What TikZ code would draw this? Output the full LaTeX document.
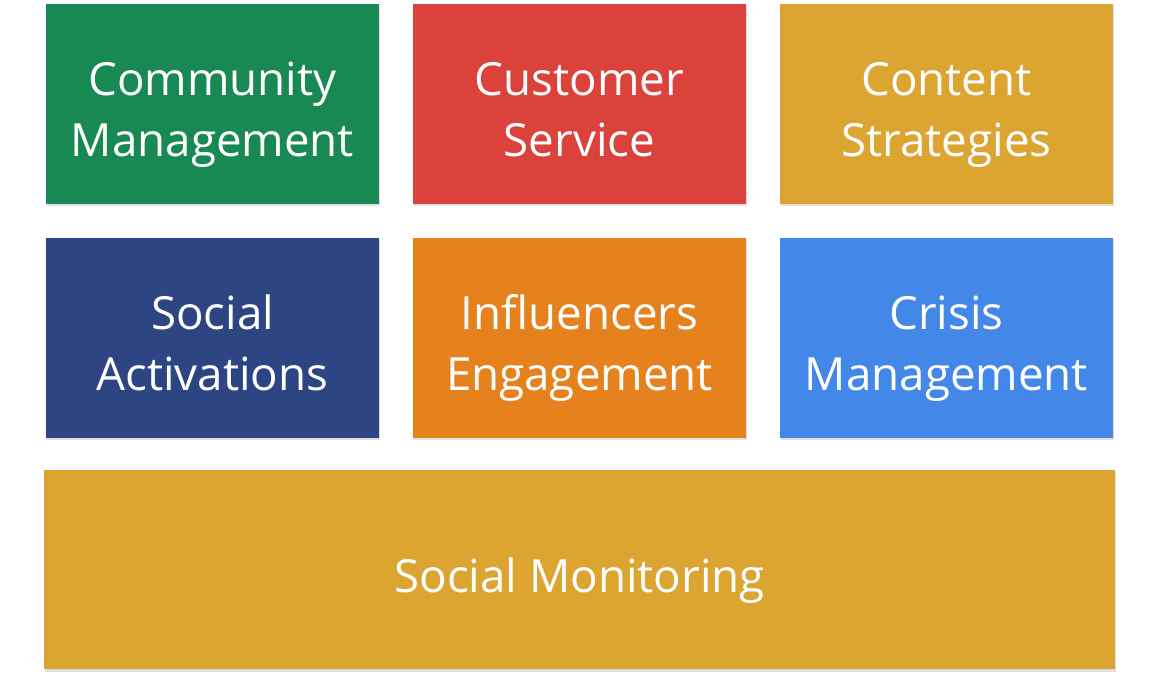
\documentclass[tikz,border=0pt]{standalone}
\usepackage{fontspec}
\setmainfont{Open Sans}
\usetikzlibrary{shadows}
\definecolor{cgreen}{RGB}{25,137,83}
\definecolor{cred}{RGB}{219,66,59}
\definecolor{cgold}{RGB}{220,164,49}
\definecolor{cnavy}{RGB}{46,69,132}
\definecolor{corange}{RGB}{230,130,30}
\definecolor{cblue}{RGB}{67,136,232}
\tikzset{
  tile/.style={rectangle, draw=none, inner sep=0pt, minimum width=333pt, minimum height=200pt,
    drop shadow={shadow xshift=1pt, shadow yshift=-2.5pt, opacity=0.25}},
  lbl/.style={text=white, inner sep=0pt, anchor=base, font=\fontsize{45.7}{61}\selectfont}
}
\begin{document}
\begin{tikzpicture}[x=1pt,y=-1pt]
\useasboundingbox (0,0) rectangle (1159,681);
% row 1
\node[tile, fill=cgreen] (cm) at (212.5,103.5) {};
\node[tile, fill=cred] (cs) at (579.5,103.5) {};
\node[tile, fill=cgold] (ct) at (946.5,103.5) {};
% row 2
\node[tile, fill=cnavy] (sa) at (212.5,337.5) {};
\node[tile, fill=corange] (ie) at (579.5,337.5) {};
\node[tile, fill=cblue] (cr) at (946.5,337.5) {};
% bottom
\node[tile, fill=cgold, minimum width=1071pt, minimum height=199pt] (sm) at (579.5,569.5) {};
% labels
\node[lbl] (cm1) at (212.5,95) {Community};
\node[lbl] (cm2) at (212.5,156) {Management};
\node[lbl] (cs1) at (579.5,95) {Customer};
\node[lbl] (cs2) at (579.5,156) {Service};
\node[lbl] (ct1) at (946.5,95) {Content};
\node[lbl] (ct2) at (946.5,156) {Strategies};
\node[lbl] (sa1) at (212.5,329) {Social};
\node[lbl] (sa2) at (212.5,390) {Activations};
\node[lbl] (ie1) at (579.5,329) {Influencers};
\node[lbl] (ie2) at (579.5,390) {Engagement};
\node[lbl] (cr1) at (946.5,329) {Crisis};
\node[lbl] (cr2) at (946.5,390) {Management};
\node[lbl] (sm1) at (579.5,592) {Social Monitoring};
\end{tikzpicture}
\end{document}
